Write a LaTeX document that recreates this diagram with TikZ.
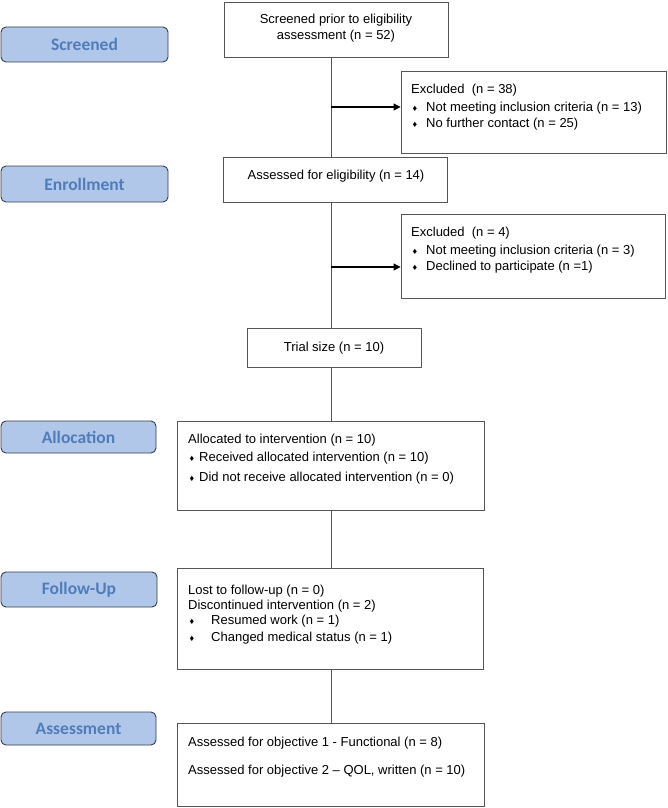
\documentclass[tikz,border=0pt]{standalone}
\usepackage{fontspec}
\setmainfont{Liberation Sans}
\newfontfamily\labfont{Carlito}
\usetikzlibrary{arrows.meta,calc}
\definecolor{labfill}{RGB}{176,199,234}
\definecolor{labtext}{RGB}{80,124,186}
\definecolor{labdraw}{RGB}{55,62,72}
\definecolor{linec}{RGB}{85,85,85}
\newcommand\dia{{\fontsize{9}{9}\selectfont ♦}}
\begin{document}
\begin{tikzpicture}[x=1pt,y=-1pt,
  box/.style={draw=linec, line width=0.9pt, rectangle, inner sep=0pt, fill=white},
  lab/.style={draw=labdraw, line width=0.9pt, fill=labfill, rounded corners=5pt, inner sep=0pt,
    font=\labfont\bfseries\fontsize{17.5}{20}\selectfont, text=labtext},
  txt/.style={anchor=base west, inner sep=0pt, font=\fontsize{13}{15}\selectfont},
  ctxt/.style={anchor=base, inner sep=0pt, font=\fontsize{13}{15}\selectfont},
  bul/.style={anchor=base, inner sep=0pt},
  conn/.style={draw=linec, line width=0.9pt},
  arr/.style={draw=black, line width=1.2pt, -{Triangle[length=7pt,width=7pt]}}]
\useasboundingbox[fill=white] (0,0) rectangle (668,808);

% stage labels
\node[lab, minimum width=167pt, minimum height=35pt] (lscr) at (84.5,44.5) {Screened};
\node[lab, minimum width=167pt, minimum height=36pt] (lenr) at (84.5,184) {Enrollment};
\node[lab, minimum width=155pt, minimum height=32pt] (lalo) at (78.5,437) {Allocation};
\node[lab, minimum width=156pt, minimum height=35pt] (lfol) at (79,589.5) {Follow-Up};
\node[lab, minimum width=155pt, minimum height=33pt] (lass) at (78.5,728.5) {Assessment};

% boxes
\node[box, minimum width=224pt, minimum height=55pt] (scr) at (336,29.5) {};
\node[box, minimum width=265pt, minimum height=82pt] (ex1) at (533.5,112) {};
\node[box, minimum width=224pt, minimum height=45pt] (ael) at (335,179.5) {};
\node[box, minimum width=264pt, minimum height=84pt] (ex2) at (533,256) {};
\node[box, minimum width=174pt, minimum height=39pt] (tri) at (334,347.5) {};
\node[box, minimum width=307pt, minimum height=89pt] (alo) at (330.5,465.5) {};
\node[box, minimum width=306pt, minimum height=101pt] (fol) at (330,618.5) {};
\node[box, minimum width=307pt, minimum height=83pt] (ass) at (330.5,764.5) {};

% texts
\node[ctxt] (t1a) at (336,23.5) {Screened prior to eligibility};
\node[ctxt] (t1b) at (336,39.5) {assessment (n = 52)};

\node[txt] (t2a) at (411,93.5) {Excluded\ \ (n = 38)};
\node[bul] (b2b) at (415,111) {\dia};
\node[txt] (t2b) at (426,111.5) {Not meeting inclusion criteria (n = 13)};
\node[bul] (b2c) at (415,127) {\dia};
\node[txt] (t2c) at (426,127.5) {No further contact (n = 25)};

\node[ctxt] (t3) at (336,179.5) {Assessed for eligibility (n = 14)};

\node[txt] (t4a) at (411,236.5) {Excluded\ \ (n = 4)};
\node[bul] (b4b) at (415,254) {\dia};
\node[txt] (t4b) at (426,254.5) {Not meeting inclusion criteria (n = 3)};
\node[bul] (b4c) at (415,270) {\dia};
\node[txt] (t4c) at (426,270.5) {Declined to participate (n =1)};

\node[ctxt] (t5) at (334,351.5) {Trial size (n = 10)};

\node[txt] (t6a) at (188,443.5) {Allocated to intervention (n = 10)};
\node[bul] (b6b) at (192,461) {\dia};
\node[txt] (t6b) at (199,461.5) {Received allocated intervention (n = 10)};
\node[bul] (b6c) at (192,481) {\dia};
\node[txt] (t6c) at (199,481.5) {Did not receive allocated intervention (n = 0)};

\node[txt] (t7a) at (188,594.5) {Lost to follow-up (n = 0)};
\node[txt] (t7b) at (188,609.5) {Discontinued intervention (n = 2)};
\node[bul] (b7c) at (192,624) {\dia};
\node[txt] (t7c) at (211,624.5) {Resumed work (n = 1)};
\node[bul] (b7d) at (192,641) {\dia};
\node[txt] (t7d) at (211,641.5) {Changed medical status (n = 1)};

\node[txt] (t8a) at (188,746.5) {Assessed for objective 1 - Functional (n = 8)};
\node[txt] (t8b) at (188,774.5) {Assessed for objective 2 – QOL, written (n = 10)};

% spine and arrows
\coordinate (sp) at (331,0);
\coordinate (a1) at (331,107);
\coordinate (a2) at (331,267);
\draw[conn] (scr.south -| sp) -- (ael.north -| sp);
\draw[conn] (ael.south -| sp) -- (tri.north -| sp);
\draw[conn] (tri.south -| sp) -- (alo.north -| sp);
\draw[conn] (alo.south -| sp) -- (fol.north -| sp);
\draw[conn] (fol.south -| sp) -- (ass.north -| sp);
\draw[arr] (a1) -- (a1 -| ex1.west);
\draw[arr] (a2) -- (a2 -| ex2.west);
\end{tikzpicture}
\end{document}
